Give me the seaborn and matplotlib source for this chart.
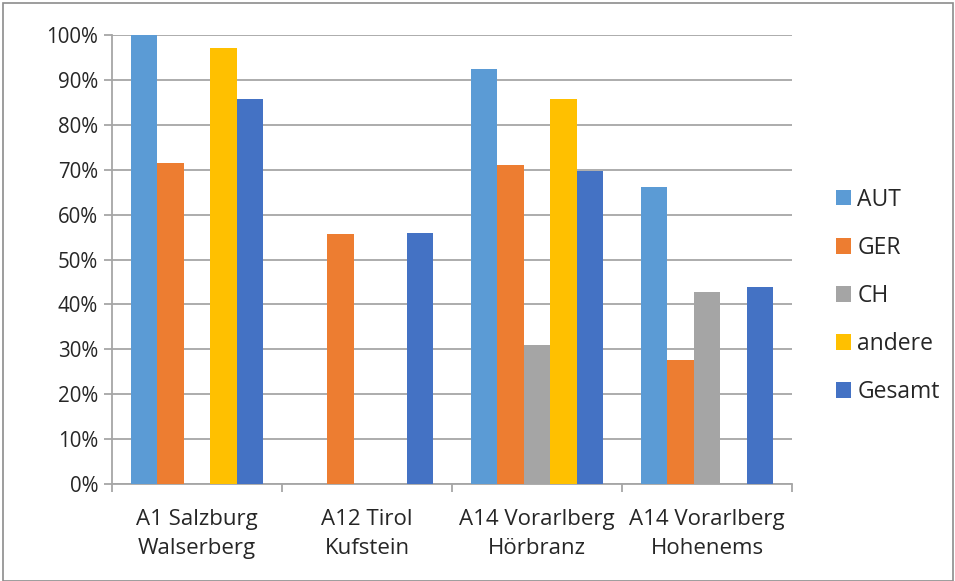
import matplotlib
matplotlib.use("Agg")
import matplotlib.pyplot as plt
from matplotlib.patches import Rectangle, Patch
from matplotlib.ticker import FixedLocator, PercentFormatter
import numpy as np
import pandas as pd
import seaborn as sns

# Categories (motorway border crossings) and series
locations = ["A1 Salzburg\nWalserberg", "A12 Tirol\nKufstein",
             "A14 Vorarlberg\nHörbranz", "A14 Vorarlberg\nHohenems"]
series = ["AUT", "GER", "CH", "andere", "Gesamt"]

# Shares in percent per series (None = no bar)
aut = [100.0, None, 92.5, 66.1]
ger = [71.4, 55.6, 71.1, 27.7]
ch = [None, None, 31.0, 42.8]
andere = [97.1, None, 85.7, None]
gesamt = [85.7, 56.0, 69.6, 43.9]

colors = ["#5B9BD5", "#ED7D31", "#A5A5A5", "#FFC000", "#4472C4"]
yticks = [0, 10, 20, 30, 40, 50, 60, 70, 80, 90, 100]

rows = []
for name, vals in zip(series, [aut, ger, ch, andere, gesamt]):
    for loc, v in zip(locations, vals):
        if v is not None:
            rows.append({"Ort": loc, "Gruppe": name, "Anteil": v})
df = pd.DataFrame(rows)

sns.set_style("white")
plt.rcParams["font.family"] = ["Open Sans", "DejaVu Sans"]

fig = plt.figure(figsize=(9.55, 5.81), dpi=100)
ax = fig.add_axes([112 / 955, 1 - 484 / 581, 680 / 955, 449 / 581])

sns.barplot(data=df, x="Ort", y="Anteil", hue="Gruppe",
            order=locations, hue_order=series, palette=colors,
            width=0.78, ax=ax, legend=False, zorder=3, saturation=1,
            linewidth=0, edgecolor="none")

ax.set_ylim(0, 100)
ax.set_xlim(-0.5, len(locations) - 0.5)
ax.set_yticks(yticks)
ax.yaxis.set_major_formatter(PercentFormatter(decimals=0))
ax.set_xlabel("")
ax.set_ylabel("")

grid_c = "#A6A6A6"
ax.grid(axis="y", color=grid_c, linewidth=1.3, zorder=0)
ax.set_axisbelow(True)
for s in ["top", "right"]:
    ax.spines[s].set_visible(False)
for s in ["left", "bottom"]:
    ax.spines[s].set_color(grid_c)
    ax.spines[s].set_linewidth(1.3)

# category separators as tick marks below the axis
ax.xaxis.set_minor_locator(FixedLocator(np.arange(-0.5, len(locations), 1.0)))
ax.tick_params(axis="x", which="major", length=0, pad=18, labelsize=16)
ax.tick_params(axis="x", which="minor", length=6, width=1.3, color=grid_c,
               direction="out", bottom=True)
ax.tick_params(axis="y", which="major", length=6, width=1.3, color=grid_c,
               direction="out", left=True, labelsize=14.8, pad=4)
for lab in ax.get_xticklabels():
    lab.set_linespacing(1.5)

handles = [Patch(facecolor=c, edgecolor="none") for c in colors]
fig.legend(handles, series, loc="center left",
           bbox_to_anchor=(815 / 955, 1 - 296 / 581), frameon=False,
           fontsize=16.5, handlelength=0.65, handleheight=0.65,
           handletextpad=0.3, labelspacing=1.05)

# outer chart border
fig.patches.append(Rectangle((3 / 955, 0), 950 / 955, 1 - 3 / 581,
                             transform=fig.transFigure, fill=False,
                             edgecolor="#8C8C8C", linewidth=1.2))

fig.savefig("out.png", dpi=100)
